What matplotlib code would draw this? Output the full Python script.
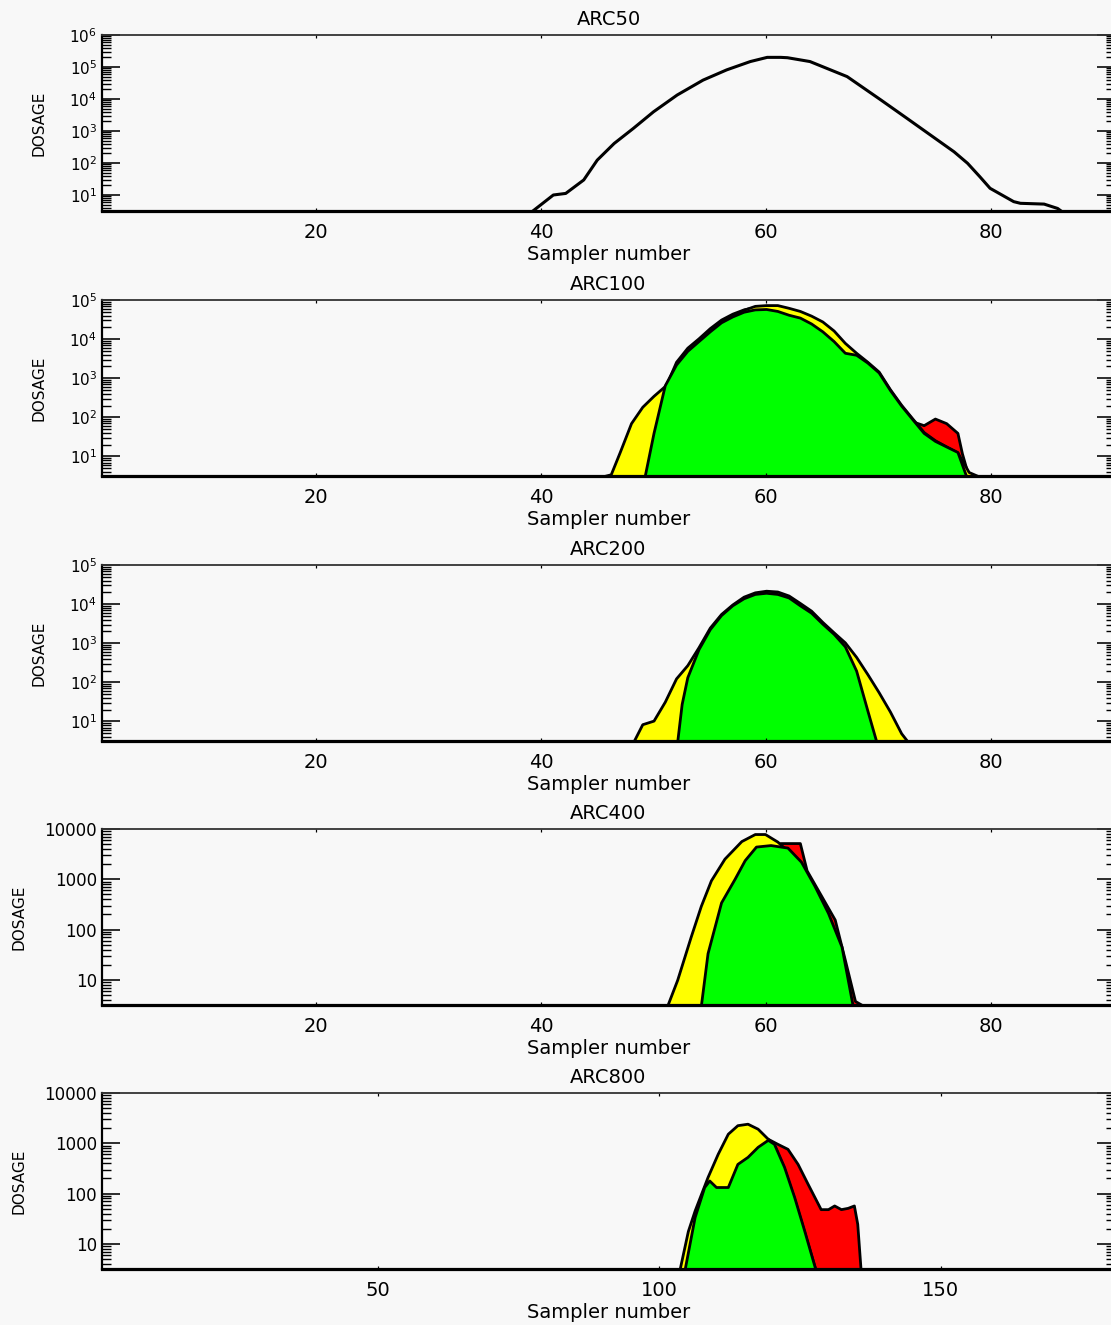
import matplotlib
matplotlib.use('Agg')
import matplotlib.pyplot as plt
from matplotlib.ticker import LogLocator, FixedLocator, FixedFormatter, NullFormatter, LogFormatterSciNotation

# ---------------- data ----------------
titles = ['ARC50', 'ARC100', 'ARC200', 'ARC400', 'ARC800']

arc50_x = [39.2, 41.1, 42.2, 43.8, 45.0, 46.5, 48.2, 50.0, 52.1, 54.4, 56.5, 58.6, 60.1, 61.3, 61.9,
           63.9, 67.2, 70.2, 72.5, 74.6, 76.7, 77.9, 79.0, 79.9, 82.0, 82.6, 84.7, 85.9, 86.3]
arc50_y = [3, 10, 11.2, 29.5, 123, 407, 1200, 3980, 13300, 38900, 81300, 148000, 200000, 200000, 195000,
           148000, 50100, 9330, 2510, 750, 224, 98, 37, 16.2, 6.2, 5.5, 5.2, 3.8, 3]

arc100_yel_x = [45.3, 46.2, 47, 48, 49, 50, 51, 52, 53, 54, 55, 56, 57, 58, 59, 60, 61, 62, 63, 64,
                65, 66, 67, 68, 69, 70, 71, 72, 73, 74, 75, 76, 77, 78, 79]
arc100_yel_y = [3, 3.5, 13, 71, 186, 355, 631, 1780, 3980, 7940, 15800, 28200, 39800, 56200, 70800,
                74100, 74100, 63100, 52500, 39800, 28200, 16600, 8000, 4470, 2630, 1480, 525, 209,
                93, 42, 26, 18, 12.6, 4, 3]
arc100_red_x = [48, 49, 50, 51, 52, 53, 54, 55, 56, 57, 58, 59, 60, 61, 62, 63, 64, 65, 66, 67, 68,
                69, 70, 71, 72, 73, 74, 75, 76, 77, 77.4, 78]
arc100_red_y = [3, 32, 200, 562, 2630, 6030, 10500, 19100, 31600, 44700, 57500, 66100, 70800, 69200,
                56200, 39800, 28200, 20000, 12600, 5010, 3550, 2000, 1000, 355, 158, 79, 63, 93, 71,
                40, 12, 3]
arc100_grn_x = [49.2, 50, 51, 52, 53, 54, 55, 56, 57, 58, 59, 60, 61, 62, 63, 64, 65, 66, 67, 68, 69,
                70, 71, 72, 73, 74, 75, 76, 77, 77.8]
arc100_grn_y = [3, 40, 661, 2240, 5010, 8910, 15800, 26900, 38000, 50100, 57500, 58900, 52500, 42000,
                35500, 25100, 15800, 8900, 4470, 3980, 2510, 1410, 501, 200, 89, 40, 25, 18, 13, 3]

arc200_yel_x = [48.2, 49, 50, 51, 52, 53, 54, 55, 56, 57, 58, 59, 60, 61, 62, 63, 64, 65, 66, 67, 68,
                69, 70, 71, 72, 72.6]
arc200_yel_y = [3, 8.5, 10.5, 32, 126, 275, 794, 2510, 5600, 9800, 15500, 20000, 22000, 21000, 16600,
                10700, 6800, 3500, 1900, 1050, 447, 162, 56, 18, 5, 3]
arc200_red_x = [49, 50, 51, 52, 53, 54, 55, 56, 57, 58, 59, 60, 61, 62, 63, 64, 65, 66, 67, 68, 69,
                70, 71, 72]
arc200_red_y = [3, 8, 25, 100, 240, 700, 2200, 5000, 9000, 14000, 18000, 19000, 18000, 14500, 9000,
                5800, 3000, 1650, 800, 400, 150, 50, 15, 3]
arc200_grn_x = [52.1, 52.5, 53, 54, 55, 56, 57, 58, 59, 60, 61, 62, 63, 64, 65, 66, 67, 68, 69, 69.8]
arc200_grn_y = [3, 28, 135, 708, 2290, 5250, 9330, 14100, 18200, 19500, 18200, 14800, 9330, 6030,
                3160, 1740, 832, 200, 19, 3]

arc400_yel_x = [51.2, 52.1, 53.3, 54.2, 55.1, 56.3, 57.8, 59.0, 59.9, 61.0, 62, 63, 64, 65, 66, 67, 67.6]
arc400_yel_y = [3, 10, 72, 295, 955, 2570, 5750, 7940, 7940, 5620, 3550, 1780, 631, 251, 79, 13, 3]
arc400_red_x = [52.5, 54, 56, 58, 60, 61.3, 63.0, 63.6, 64.9, 66.1, 67.0, 67.9, 68.7]
arc400_red_y = [3, 79, 1000, 3160, 4470, 5250, 5250, 1510, 468, 158, 25, 3.8, 3]
arc400_grn_x = [54.2, 54.8, 56.0, 57.2, 58.1, 59.1, 60.4, 61.9, 63.1, 64.3, 65.5, 66.7, 67.7]
arc400_grn_y = [3, 34, 347, 1020, 2400, 4470, 4790, 4270, 2240, 741, 214, 46, 3]

arc800_yel_x = [103.6, 105.1, 106.3, 108.6, 110.4, 112.2, 113.9, 115.7, 117.5, 119.3, 120.4, 122.2,
                124.0, 125.8, 127.8]
arc800_yel_y = [3, 18, 46, 214, 617, 1550, 2290, 2450, 1950, 1230, 933, 316, 79, 17, 3]
arc800_red_x = [104, 108, 112, 116, 119.3, 121.0, 122.8, 124.6, 126.4, 128.7, 130, 131.1, 132.3,
                133.5, 134.6, 135.2, 135.8]
arc800_red_y = [3, 100, 316, 794, 1230, 977, 776, 389, 155, 49, 49, 58, 49, 52, 58, 25, 3]
arc800_grn_x = [104.5, 106.3, 108.0, 108.9, 110.1, 112.2, 113.9, 115.7, 117.5, 119.3, 120.4, 122.2,
                124.0, 125.8, 127.8]
arc800_grn_y = [3, 34, 135, 182, 135, 135, 389, 537, 851, 1170, 977, 339, 85, 18, 3]

x_ticks_90 = [20, 40, 60, 80]
x_ticks_180 = [50, 100, 150]
y_ticks_4 = [10, 100, 1000, 10000]
y_ticks_4_labels = ['10', '100', '1000', '10000']

# ---------------- style ----------------
BG = '#f8f8f8'
YEL, RED, GRN = '#ffff00', '#ff0000', '#00ff00'
W, H = 1111, 1325
plt.rcParams['font.family'] = ['DejaVu Sans']
fig = plt.figure(figsize=(W / 100, H / 100), dpi=100, facecolor=BG)

left_px, right_px = 102, 1115
tops = [35, 300, 565, 829, 1093]
height_px = 176
ymax = [1e6, 1e5, 1e5, 1e4, 1e4]
xmax = [91, 91, 91, 91, 181]
ylabel_x = [-0.055, -0.055, -0.055, -0.075, -0.075]

fills = [
    None,
    [(arc100_red_x, arc100_red_y, RED), (arc100_yel_x, arc100_yel_y, YEL), (arc100_grn_x, arc100_grn_y, GRN)],
    [(arc200_red_x, arc200_red_y, RED), (arc200_yel_x, arc200_yel_y, YEL), (arc200_grn_x, arc200_grn_y, GRN)],
    [(arc400_red_x, arc400_red_y, RED), (arc400_yel_x, arc400_yel_y, YEL), (arc400_grn_x, arc400_grn_y, GRN)],
    [(arc800_red_x, arc800_red_y, RED), (arc800_yel_x, arc800_yel_y, YEL), (arc800_grn_x, arc800_grn_y, GRN)],
]

px = 0.72  # points per pixel at dpi 100
for i in range(5):
    b = 1 - (tops[i] + height_px) / H
    ax = fig.add_axes([left_px / W, b, (right_px - left_px) / W, height_px / H])
    ax.set_facecolor(BG)
    ax.set_yscale('log')
    ax.set_xlim(1, xmax[i])
    ax.set_ylim(10 ** 0.5, ymax[i])

    if fills[i] is None:
        ax.plot(arc50_x, arc50_y, color='black', lw=2.2, solid_joinstyle='round')
    else:
        for xs, ys, c in fills[i]:
            ax.fill_between(xs, 1, ys, facecolor=c, edgecolor='black', linewidth=2.0, joinstyle='round')

    # y axis ticks
    ax.yaxis.set_major_locator(LogLocator(base=10, numticks=20))
    ax.yaxis.set_minor_locator(LogLocator(base=10, subs=range(2, 10), numticks=20))
    ax.yaxis.set_minor_formatter(NullFormatter())
    if i < 3:
        ax.yaxis.set_major_formatter(LogFormatterSciNotation())
        ysize = 11
    else:
        ax.yaxis.set_major_locator(FixedLocator(y_ticks_4))
        ax.yaxis.set_major_formatter(FixedFormatter(y_ticks_4_labels))
        ysize = 12
    ax.tick_params(axis='y', which='major', direction='in', length=18 * px, width=1.6 * px,
                   left=True, right=True, labelsize=ysize, pad=5 * px)
    ax.tick_params(axis='y', which='minor', direction='in', length=9 * px, width=1.4 * px,
                   left=True, right=True)

    # x axis ticks
    ax.xaxis.set_major_locator(FixedLocator(x_ticks_180 if i == 4 else x_ticks_90))
    ax.xaxis.set_minor_locator(FixedLocator([]))
    ax.tick_params(axis='x', which='major', direction='in', length=3 * px, width=1.2 * px,
                   top=True, bottom=True, labelsize=14, pad=12 * px)

    for side, lw in (('top', 1.8), ('left', 2.2), ('right', 2.2), ('bottom', 3.2)):
        ax.spines[side].set_linewidth(lw * px)
        ax.spines[side].set_color('black')
    ax.spines['top'].set_color('#333333')

    ax.set_title(titles[i], fontsize=14, pad=10 * px)
    ax.set_xlabel('Sampler number', fontsize=14, labelpad=3 * px)
    ax.set_ylabel('DOSAGE', fontsize=11)
    ax.yaxis.set_label_coords(ylabel_x[i], 0.5)

fig.savefig('out.png', dpi=100, facecolor=BG)
